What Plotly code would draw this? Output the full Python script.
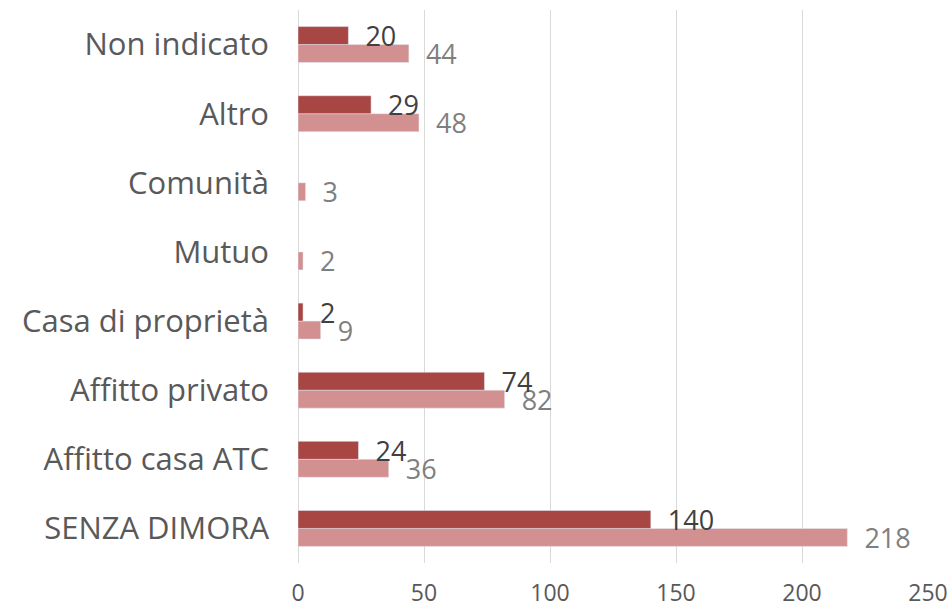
import plotly.graph_objects as go

categories = ["SENZA DIMORA", "Affitto casa ATC", "Affitto privato", "Casa di proprietà",
              "Mutuo", "Comunità", "Altro", "Non indicato"]
series_dark = [140, 24, 74, 2, None, None, 29, 20]
series_light = [218, 36, 82, 9, 2, 3, 48, 44]
x_ticks = [0, 50, 100, 150, 200, 250]

FONT = "Open Sans"

fig = go.Figure()
fig.add_trace(go.Bar(
    y=categories, x=series_light, orientation="h", name="B",
    marker=dict(color="#D39091"),
    text=[("\u00a0\u00a0" + str(v)) if v is not None else "" for v in series_light],
    textposition="outside", cliponaxis=False, constraintext="none",
    textfont=dict(family=FONT, size=27, color="#7F7F7F"),
))
fig.add_trace(go.Bar(
    y=categories, x=series_dark, orientation="h", name="A",
    marker=dict(color="#A84644"),
    text=[("\u00a0\u00a0" + str(v)) if v is not None else "" for v in series_dark],
    textposition="outside", cliponaxis=False, constraintext="none",
    textfont=dict(family=FONT, size=27, color="#404040"),
))

fig.update_layout(
    width=950, height=607,
    margin=dict(l=298, r=22, t=10, b=44, autoexpand=False),
    paper_bgcolor="white", plot_bgcolor="white",
    barmode="group", bargap=0.48, bargroupgap=0,
    showlegend=False,
    font=dict(family=FONT, color="#595959"),
)
fig.update_xaxes(
    range=[0, 250], tickvals=x_ticks, showgrid=True, gridcolor="#D9D9D9", gridwidth=1,
    zeroline=True, zerolinecolor="#D9D9D9", zerolinewidth=1, automargin=False,
    tickfont=dict(family=FONT, size=23, color="#595959"), ticks="", showline=False,
    ticklabelstandoff=14,
)
fig.update_yaxes(
    categoryorder="array", categoryarray=categories, automargin=False,
    tickfont=dict(family=FONT, size=31, color="#595959"), ticks="", showline=False,
    ticklabelstandoff=28,
)

fig.write_html("out.html", config={"displayModeBar": False},
               post_script="document.body.style.margin='0';")
